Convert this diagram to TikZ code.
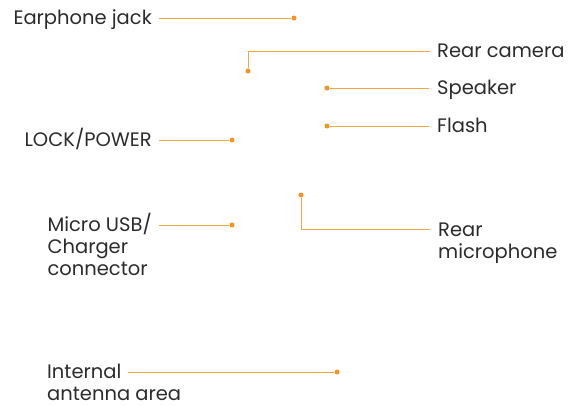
\documentclass[tikz,border=0pt]{standalone}
\usepackage{fontspec}
\setmainfont{Poppins}
\usetikzlibrary{positioning}

\definecolor{leadorange}{HTML}{F7A443}
\definecolor{dotorange}{HTML}{F7931E}
\definecolor{labelgray}{HTML}{2B2B2B}

\begin{document}
\begin{tikzpicture}[x=1pt,y=-1pt,font=\fontsize{19.5}{22}\selectfont]
    \tikzset{
        lead/.style={draw=leadorange,line width=1pt},
        pin/.style={circle,fill=dotorange,inner sep=0pt,minimum size=5pt},
        lbl/.style={inner sep=0pt,text=labelgray,align=left},
        oneline/.style={lbl,text height=13pt,text depth=0pt}
    }
    \useasboundingbox (0,0) rectangle (573,405);

    % points on the phone
    \node[pin] (ej) at (294,18) {};
    \node[pin] (rc) at (248,71) {};
    \node[pin] (spk) at (327,88) {};
    \node[pin] (fl) at (327,126) {};
    \node[pin] (lp) at (232,140) {};
    \node[pin] (usb) at (232,225) {};
    \node[pin] (rm) at (301,195) {};
    \node[pin] (ant) at (337,372) {};

    % labels
    \node[oneline,anchor=east] (earjack) at ([xshift=-142pt] ej) {Earphone jack};
    \node[oneline,anchor=east] (lockpow) at ([xshift=-80pt] lp) {LOCK/POWER};
    \node[lbl,anchor=north east] (usbconn) at ([xshift=-80pt,yshift=12pt] usb) {Micro USB/\\Charger\\connector};
    \node[lbl,anchor=north west] (antarea) at ([xshift=-290pt,yshift=8pt] ant) {Internal\\antenna area};
    \node[oneline,anchor=west] (rearcam) at ([xshift=189pt,yshift=20pt] rc) {Rear camera};
    \node[oneline,anchor=west] (speaker) at ([xshift=110pt] spk) {Speaker};
    \node[oneline,anchor=west] (flash) at ([xshift=110pt] fl) {Flash};
    \node[lbl,anchor=north west] (rearmic) at ([xshift=137pt,yshift=-27.5pt] rm) {Rear\\microphone};
    \coordinate (antend) at ([xshift=-209pt] ant);
    \coordinate (micend) at ([xshift=-8pt,yshift=-6.5pt] rearmic.north west);

    \draw[lead] ([xshift=7pt] earjack.east) -- (ej);
    \draw[lead] ([xshift=7pt] lockpow.east) -- (lp);
    \draw[lead] ([xshift=7pt,yshift=-12pt] usbconn.north east) -- (usb);
    \draw[lead] (antend) -- (ant);
    \draw[lead] (rc) |- ([xshift=-7pt] rearcam.west);
    \draw[lead] (spk) -- ([xshift=-8pt] speaker.west);
    \draw[lead] (fl) -- ([xshift=-8pt] flash.west);
    \draw[lead] (rm) |- (micend);
\end{tikzpicture}
\end{document}
